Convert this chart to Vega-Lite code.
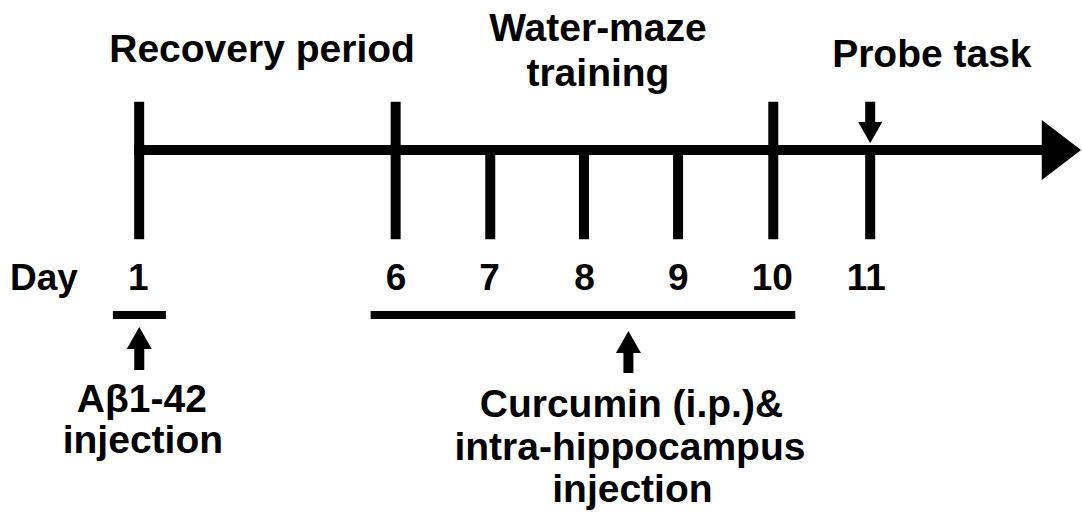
{
  "$schema": "https://vega.github.io/schema/vega-lite/v6.json",
  "width": 1082,
  "height": 514,
  "padding": 0,
  "autosize": {"type": "fit", "contains": "padding"},
  "background": "white",
  "config": {"view": {"stroke": null}},
  "datasets": {
    "mainline": [{"start": 134.3, "end": 1043, "level": 150}],
    "ticks": [
      {"day": 1, "pos": 139.3, "top": 101.7, "bottom": 239.3},
      {"day": 6, "pos": 396, "top": 101.7, "bottom": 239.3},
      {"day": 7, "pos": 490.7, "top": 150, "bottom": 239.3},
      {"day": 8, "pos": 584.5, "top": 150, "bottom": 239.3},
      {"day": 9, "pos": 678.7, "top": 150, "bottom": 239.3},
      {"day": 10, "pos": 774, "top": 101.7, "bottom": 239.3},
      {"day": 11, "pos": 871, "top": 150, "bottom": 239.3}
    ],
    "periods": [
      {"name": "Abeta", "start": 113, "end": 166, "level": 315},
      {"name": "Curcumin", "start": 371, "end": 796, "level": 315}
    ],
    "shafts": [
      {"name": "Abeta", "pos": 139.4, "top": 348, "bottom": 370},
      {"name": "Curcumin", "pos": 629, "top": 352, "bottom": 373},
      {"name": "Probe", "pos": 871, "top": 101.7, "bottom": 123}
    ],
    "upheads": [
      {"name": "Abeta", "pos": 139.4, "level": 338},
      {"name": "Curcumin", "pos": 629, "level": 342}
    ],
    "downheads": [
      {"name": "Probe", "pos": 871, "level": 132.6}
    ],
    "endhead": [{"pos": 1062.4, "level": 150}],
    "daylabels": [
      {"label": "Day", "pos": 44, "level": 290},
      {"label": "1", "pos": 138.5, "level": 290},
      {"label": "6", "pos": 396.5, "level": 290},
      {"label": "7", "pos": 490, "level": 290},
      {"label": "8", "pos": 585, "level": 290},
      {"label": "9", "pos": 679, "level": 290},
      {"label": "10", "pos": 773, "level": 290},
      {"label": "11", "pos": 867, "level": 290}
    ],
    "notes": [
      {"label": "Recovery period", "pos": 262.3, "level": 62.3},
      {"label": "Water-maze", "pos": 598.5, "level": 40.7},
      {"label": "training", "pos": 598.5, "level": 85.5},
      {"label": "Probe task", "pos": 932.7, "level": 66.7},
      {"label": "Aβ1-42", "pos": 142, "level": 412},
      {"label": "injection", "pos": 143, "level": 453},
      {"label": "Curcumin (i.p.)&", "pos": 632, "level": 417},
      {"label": "intra-hippocampus", "pos": 630.5, "level": 460},
      {"label": "injection", "pos": 633, "level": 502}
    ]
  },
  "layer": [
    {
      "data": {"name": "mainline"},
      "mark": {"type": "rule", "color": "black", "strokeWidth": 10, "strokeCap": "butt"},
      "encoding": {
        "x": {"field": "start", "type": "quantitative", "scale": {"domain": [0, 1082], "nice": false, "zero": false}, "axis": null},
        "x2": {"field": "end"},
        "y": {"field": "level", "type": "quantitative", "scale": {"domain": [0, 514], "nice": false, "zero": false, "reverse": true}, "axis": null}
      }
    },
    {
      "data": {"name": "ticks"},
      "mark": {"type": "rule", "color": "black", "strokeWidth": 10, "strokeCap": "butt"},
      "encoding": {
        "x": {"field": "pos", "type": "quantitative"},
        "y": {"field": "top", "type": "quantitative"},
        "y2": {"field": "bottom"}
      }
    },
    {
      "data": {"name": "periods"},
      "mark": {"type": "rule", "color": "black", "strokeWidth": 8, "strokeCap": "butt"},
      "encoding": {
        "x": {"field": "start", "type": "quantitative"},
        "x2": {"field": "end"},
        "y": {"field": "level", "type": "quantitative"}
      }
    },
    {
      "data": {"name": "shafts"},
      "mark": {"type": "rule", "color": "black", "strokeWidth": 10, "strokeCap": "butt"},
      "encoding": {
        "x": {"field": "pos", "type": "quantitative"},
        "y": {"field": "top", "type": "quantitative"},
        "y2": {"field": "bottom"}
      }
    },
    {
      "data": {"name": "upheads"},
      "mark": {"type": "point", "shape": "M0,-0.88L1,0.88L-1,0.88Z", "size": 625, "filled": true, "color": "black", "opacity": 1, "strokeWidth": 0},
      "encoding": {
        "x": {"field": "pos", "type": "quantitative"},
        "y": {"field": "level", "type": "quantitative"}
      }
    },
    {
      "data": {"name": "downheads"},
      "mark": {"type": "point", "shape": "M0,0.88L1,-0.88L-1,-0.88Z", "size": 576, "filled": true, "color": "black", "opacity": 1, "strokeWidth": 0},
      "encoding": {
        "x": {"field": "pos", "type": "quantitative"},
        "y": {"field": "level", "type": "quantitative"}
      }
    },
    {
      "data": {"name": "endhead"},
      "mark": {"type": "point", "shape": "M-0.655,-1L0.655,0L-0.655,1Z", "size": 3600, "filled": true, "color": "black", "opacity": 1, "strokeWidth": 0, "clip": false},
      "encoding": {
        "x": {"field": "pos", "type": "quantitative"},
        "y": {"field": "level", "type": "quantitative"}
      }
    },
    {
      "data": {"name": "daylabels"},
      "mark": {"type": "text", "font": "Liberation Sans", "fontWeight": "bold", "fontSize": 37, "align": "center", "baseline": "alphabetic", "color": "black"},
      "encoding": {
        "x": {"field": "pos", "type": "quantitative"},
        "y": {"field": "level", "type": "quantitative"},
        "text": {"field": "label"}
      }
    },
    {
      "data": {"name": "notes"},
      "mark": {"type": "text", "font": "Liberation Sans", "fontWeight": "bold", "fontSize": 39, "align": "center", "baseline": "alphabetic", "color": "black"},
      "encoding": {
        "x": {"field": "pos", "type": "quantitative"},
        "y": {"field": "level", "type": "quantitative"},
        "text": {"field": "label"}
      }
    }
  ]
}
